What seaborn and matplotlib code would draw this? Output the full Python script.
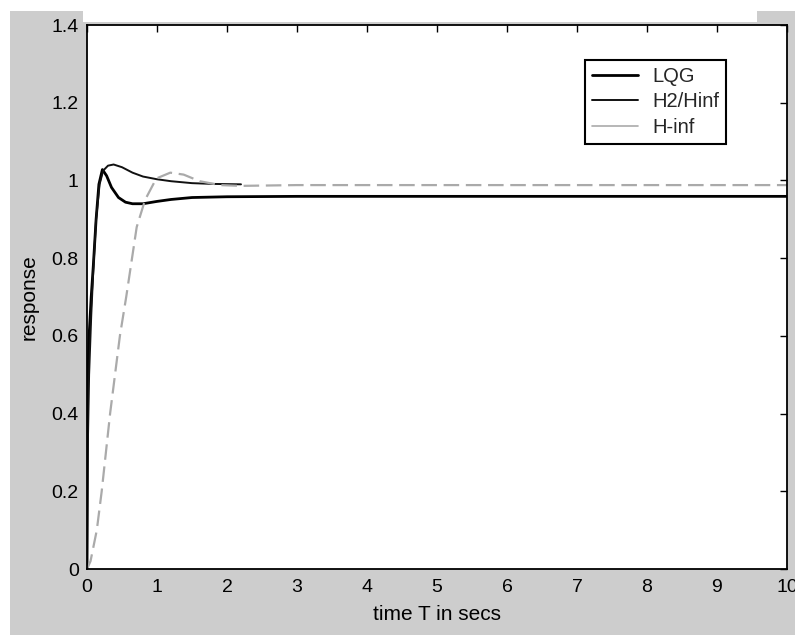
import matplotlib
matplotlib.use('Agg')
import matplotlib.pyplot as plt
from matplotlib.patches import Rectangle
import seaborn as sns

# step responses
t_lqg = [0, 0.005, 0.01, 0.03, 0.06, 0.09, 0.13, 0.17, 0.22, 0.28, 0.35, 0.45,
         0.55, 0.65, 0.8, 1.0, 1.2, 1.5, 2.0, 3.0, 10.0]
lqg = [0, 0.25, 0.48, 0.6, 0.7, 0.78, 0.9, 0.99, 1.028, 1.012, 0.982, 0.956,
       0.944, 0.940, 0.940, 0.946, 0.951, 0.956, 0.958, 0.959, 0.959]

t_h2 = [0, 0.01, 0.03, 0.06, 0.09, 0.13, 0.18, 0.23, 0.3, 0.38, 0.5, 0.65,
        0.8, 1.0, 1.2, 1.5, 1.8, 2.2]
h2hinf = [0, 0.3, 0.5, 0.65, 0.77, 0.9, 0.99, 1.025, 1.038, 1.041, 1.034, 1.02,
          1.01, 1.003, 0.998, 0.993, 0.991, 0.99]

t_hinf = [0, 0.05, 0.14, 0.21, 0.33, 0.47, 0.56, 0.61, 0.71, 0.83, 0.99, 1.19,
          1.38, 1.61, 1.9, 2.2, 3.0, 10.0]
hinf = [0, 0.02, 0.10, 0.20, 0.40, 0.60, 0.70, 0.76, 0.88, 0.95, 1.005, 1.02,
        1.015, 0.998, 0.988, 0.986, 0.988, 0.988]

xticks = list(range(0, 11))
yticks = [0, 0.2, 0.4, 0.6, 0.8, 1.0, 1.2, 1.4]
ytick_labels = ['0', '0.2', '0.4', '0.6', '0.8', '1', '1.2', '1.4']

sns.set_theme(style='white')
plt.rcParams['font.family'] = ['Liberation Sans', 'DejaVu Sans']

W, H = 795, 635
fig = plt.figure(figsize=(W / 100, H / 100), dpi=100, facecolor='white')
# grey matlab-style figure background, with the white strip above the axes
fig.add_artist(Rectangle((10 / W, 0), 1 - 10 / W, 1 - 11 / H,
                         transform=fig.transFigure, facecolor='#cdcdcd',
                         edgecolor='none', zorder=-10))
fig.add_artist(Rectangle((83 / W, 1 - 22 / H), (757 - 83) / W, 22 / H,
                         transform=fig.transFigure, facecolor='white',
                         edgecolor='none', zorder=-9))

ax = fig.add_axes([87 / W, 1 - 569 / H, 700 / W, 544 / H])
ax.set_facecolor('white')

sns.lineplot(x=t_lqg, y=lqg, ax=ax, color='black', linewidth=2.0, label='LQG')
sns.lineplot(x=t_h2, y=h2hinf, ax=ax, color='#111111', linewidth=1.4, label='H2/Hinf')
sns.lineplot(x=t_hinf, y=hinf, ax=ax, color='#aaaaaa', linewidth=1.6, label='H-inf')
ax.lines[2].set_dashes((7, 3))

ax.set_xlim(0, 10)
ax.set_ylim(0, 1.4)
ax.set_xticks(xticks)
ax.set_yticks(yticks)
ax.set_yticklabels(ytick_labels)
ax.tick_params(axis='both', direction='in', length=5, width=1, color='black',
               labelsize=14, labelcolor='black', top=True, right=True)
ax.tick_params(axis='x', pad=7)
ax.tick_params(axis='y', pad=6)
for s in ax.spines.values():
    s.set_visible(True)
    s.set_color('black')
    s.set_linewidth(1.3)

ax.set_xlabel('time T in secs', fontsize=15, color='black', labelpad=7)
ax.set_ylabel('response', fontsize=15, color='black', labelpad=9)

leg = ax.legend(loc='upper right', bbox_to_anchor=(0.913, 0.936), borderaxespad=0,
                fontsize=14.5, frameon=True, fancybox=False, framealpha=1,
                edgecolor='black', handlelength=2.3, handletextpad=0.7,
                borderpad=0.35, labelspacing=0.32)
leg.get_frame().set_linewidth(1.5)
leg.get_lines()[2].set_linestyle('-')
leg.get_lines()[2].set_linewidth(1.2)

fig.savefig('out.png', dpi=100, facecolor=fig.get_facecolor())
